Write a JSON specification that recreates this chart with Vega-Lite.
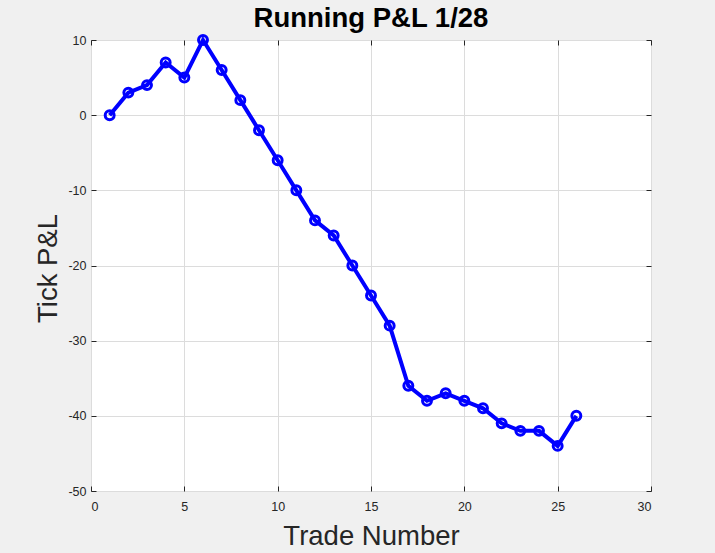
{
  "$schema": "https://vega.github.io/schema/vega-lite/v6.json",
  "width": 560,
  "height": 451,
  "autosize": "none",
  "padding": {"left": 91, "top": 40, "right": 64, "bottom": 62},
  "background": "#f0f0f0",
  "title": {"text": "Running P&L 1/28", "font": "Liberation Sans", "fontSize": 27.5, "fontWeight": "bold", "color": "#000000", "offset": -3, "anchor": "middle"},
  "config": {
    "view": {"fill": "white", "stroke": "#262626", "strokeWidth": 1},
    "axis": {"labelFont": "Liberation Sans", "labelFontSize": 12.5, "labelColor": "#262626", "titleFont": "Liberation Sans", "titleFontSize": 27.5, "titleFontWeight": "normal", "titleColor": "#262626", "domain": false, "tickColor": "#262626", "tickSize": -5, "gridColor": "#dcdcdc", "gridOpacity": 1}
  },
  "data": {"values": [
    {"trade": 1, "pnl": 0}, {"trade": 2, "pnl": 3}, {"trade": 3, "pnl": 4}, {"trade": 4, "pnl": 7},
    {"trade": 5, "pnl": 5}, {"trade": 6, "pnl": 10}, {"trade": 7, "pnl": 6}, {"trade": 8, "pnl": 2},
    {"trade": 9, "pnl": -2}, {"trade": 10, "pnl": -6}, {"trade": 11, "pnl": -10}, {"trade": 12, "pnl": -14},
    {"trade": 13, "pnl": -16}, {"trade": 14, "pnl": -20}, {"trade": 15, "pnl": -24}, {"trade": 16, "pnl": -28},
    {"trade": 17, "pnl": -36}, {"trade": 18, "pnl": -38}, {"trade": 19, "pnl": -37}, {"trade": 20, "pnl": -38},
    {"trade": 21, "pnl": -39}, {"trade": 22, "pnl": -41}, {"trade": 23, "pnl": -42}, {"trade": 24, "pnl": -42},
    {"trade": 25, "pnl": -44}, {"trade": 26, "pnl": -40}
  ]},
  "layer": [
    {
      "mark": {"type": "line", "color": "#0000ff", "strokeWidth": 4},
      "encoding": {
        "x": {"field": "trade", "type": "quantitative", "scale": {"domain": [0, 30], "nice": false},
          "axis": {"orient": "bottom", "values": [0, 5, 10, 15, 20, 25, 30], "title": "Trade Number", "labelPadding": 14.5, "titleX": 280, "titleY": 45, "titleBaseline": "middle"}},
        "y": {"field": "pnl", "type": "quantitative", "scale": {"domain": [-50, 10], "nice": false},
          "axis": {"orient": "left", "values": [-50, -40, -30, -20, -10, 0, 10], "labelExpr": "replace(datum.label, '\u2212', '-')", "title": "Tick P&L", "labelPadding": 10, "titleX": -43, "titleY": 228, "titleBaseline": "middle", "titleAngle": -90}}
      }
    },
    {
      "mark": {"type": "point", "shape": "circle", "filled": false, "color": "#0000ff", "strokeWidth": 3, "size": 80, "opacity": 1},
      "encoding": {
        "x": {"field": "trade", "type": "quantitative",
          "axis": {"orient": "top", "values": [0, 5, 10, 15, 20, 25, 30], "labels": false, "grid": false, "title": null}},
        "y": {"field": "pnl", "type": "quantitative",
          "axis": {"orient": "right", "values": [-50, -40, -30, -20, -10, 0, 10], "labels": false, "grid": false, "title": null}}
      }
    }
  ],
  "resolve": {"axis": {"x": "independent", "y": "independent"}}
}
